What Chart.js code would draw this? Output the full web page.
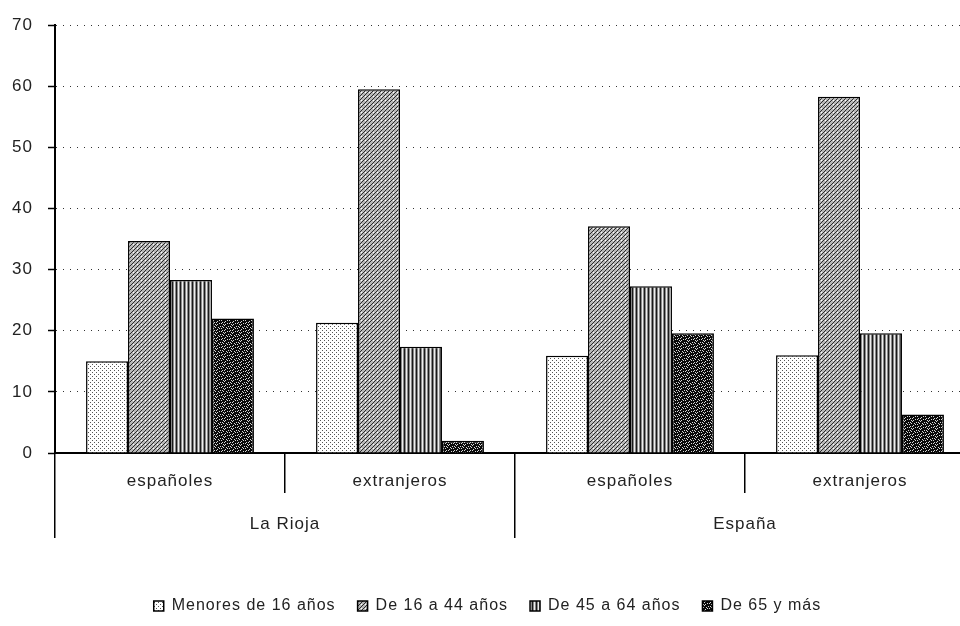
<!DOCTYPE html>
<html lang="es">
<head>
<meta charset="utf-8">
<title>Población por grupos de edad</title>
<script src="https://cdn.jsdelivr.net/npm/chart.js@4.4.1/dist/chart.umd.min.js"></script>
<style>
  html, body { margin: 0; padding: 0; background: #ffffff; overflow: hidden; }
  #wrap { width: 976px; height: 640px; }
  canvas { display: block; }
</style>
</head>
<body>
<div id="wrap"><canvas id="c" width="976" height="640" style="width:976px;height:640px"></canvas></div>
<script>
// ---- data ----
const categories = ['españoles', 'extranjeros', 'españoles', 'extranjeros'];
const regions = ['La Rioja', 'España'];
const seriesLabels = ['Menores de 16 años', 'De 16 a 44 años', 'De 45 a 64 años', 'De 65 y más'];
const menores16 = [15.0, 21.3, 15.9, 16.0];
const de16a44 = [34.7, 59.5, 37.1, 58.3];
const de45a64 = [28.3, 17.4, 27.3, 19.6];
const de65ymas = [22.0, 2.0, 19.6, 6.3];
const yMin = 0, yMax = 70, yStep = 10;

// ---- fill patterns ----
function makePattern(w, h, bg, pixels, fg) {
  const cv = document.createElement('canvas');
  cv.width = w; cv.height = h;
  const g = cv.getContext('2d');
  g.fillStyle = bg; g.fillRect(0, 0, w, h);
  g.fillStyle = fg;
  pixels.forEach(p => g.fillRect(p[0], p[1], 1, 1));
  return g.createPattern(cv, 'repeat');
}
function makeStripes(cols) {
  const cv = document.createElement('canvas');
  cv.width = cols.length; cv.height = 2;
  const g = cv.getContext('2d');
  cols.forEach((c, i) => { g.fillStyle = c; g.fillRect(i, 0, 1, 2); });
  return g.createPattern(cv, 'repeat');
}
const patMenores = makePattern(4, 4, '#ffffff', [[0,0],[2,2]], '#555555');
const patDe16 = (function () {
  const cv = document.createElement('canvas');
  cv.width = 4; cv.height = 4;
  const g = cv.getContext('2d');
  g.fillStyle = '#b8b8b8'; g.fillRect(0, 0, 4, 4);
  g.fillStyle = '#2a2a2a';
  [[3,0],[2,1],[1,2],[0,3]].forEach(p => g.fillRect(p[0], p[1], 1, 1));
  g.fillStyle = '#ffffff';
  g.fillRect(1, 0, 1, 1);
  return g.createPattern(cv, 'repeat');
})();
const patDe45 = makeStripes(['#1a1a1a', '#8a8a8a', '#eeeeee', '#8a8a8a']);
const patDe65 = makePattern(8, 8, '#0a0a0a',
  [[1,1],[5,0],[3,3],[7,4],[0,5],[4,6],[6,2],[2,7],[3,0],[7,7],[1,4],[5,3],[6,6],[0,2]], '#d8d8d8');

const spacingPlugin = {
  id: 'spacing',
  beforeUpdate(c) { c.ctx.letterSpacing = '1px'; },
  beforeDraw(c) { c.ctx.letterSpacing = '1px'; }
};

const FONT = "'Liberation Sans', Arial, sans-serif";

new Chart(document.getElementById('c'), {
  type: 'bar',
  data: {
    labels: categories,
    datasets: [
      { label: seriesLabels[0], data: menores16, backgroundColor: patMenores },
      { label: seriesLabels[1], data: de16a44, backgroundColor: patDe16 },
      { label: seriesLabels[2], data: de45a64, backgroundColor: patDe45 },
      { label: seriesLabels[3], data: de65ymas, backgroundColor: patDe65 }
    ].map(d => Object.assign(d, { borderColor: '#000000', borderWidth: 1.5 }))
  },
  plugins: [spacingPlugin],
  options: {
    responsive: false,
    animation: false,
    devicePixelRatio: 1,
    layout: { padding: { top: 25, right: 1, bottom: 16, left: 0 } },
    datasets: { bar: { categoryPercentage: 0.73, barPercentage: 1.0 } },
    plugins: {
      title: { display: false },
      tooltip: { enabled: false },
      legend: {
        position: 'bottom',
        labels: {
          font: { family: FONT, size: 16 },
          color: '#222222',
          boxWidth: 10,
          boxHeight: 10,
          padding: 22
        }
      }
    },
    scales: {
      x: {
        type: 'category',
        position: 'bottom',
        weight: 0,
        offset: true,
        grid: {
          offset: true,
          drawOnChartArea: false,
          drawTicks: true,
          tickLength: 40,
          color: '#000000',
          lineWidth: 1.5,
          tickColor: '#000000',
          tickWidth: 1.5
        },
        border: { display: true, color: '#000000', width: 2 },
        ticks: {
          font: { family: FONT, size: 17 },
          color: '#222222',
          padding: -22,
          maxRotation: 0,
          autoSkip: false
        },
        afterFit(s) { s.height = 40; }
      },
      x2: {
        type: 'category',
        position: 'bottom',
        weight: 1,
        labels: regions,
        offset: true,
        grid: {
          offset: true,
          drawOnChartArea: false,
          drawTicks: true,
          tickLength: 45,
          color: '#000000',
          lineWidth: 1.5,
          tickColor: '#000000',
          tickWidth: 1.5
        },
        border: { display: false },
        ticks: {
          font: { family: FONT, size: 17 },
          color: '#222222',
          padding: -24,
          maxRotation: 0,
          autoSkip: false
        },
        afterFit(s) { s.height = 83; }
      },
      y: {
        type: 'linear',
        position: 'left',
        min: yMin,
        max: yMax,
        ticks: {
          stepSize: yStep,
          font: { family: FONT, size: 17 },
          color: '#222222',
          padding: 15
        },
        grid: {
          color: '#333333',
          lineWidth: 1,
          drawTicks: true,
          tickLength: 7,
          tickColor: '#000000',
          tickWidth: 1.5
        },
        border: { display: true, color: '#000000', width: 2, dash: [1, 6] },
        afterFit(s) { s.width = 55; }
      }
    }
  }
});
</script>
</body>
</html>
